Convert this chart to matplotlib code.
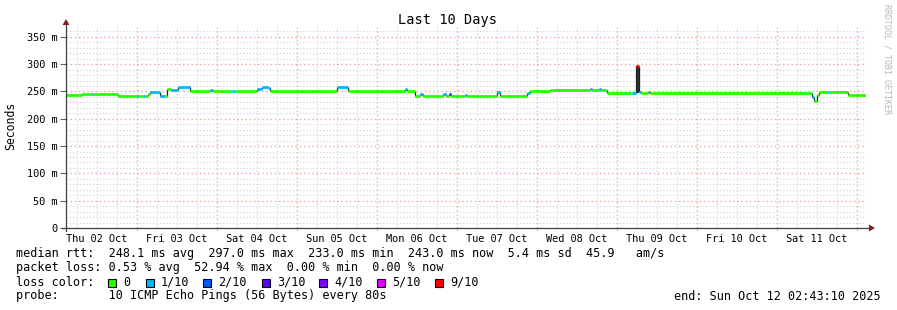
import numpy as np
import matplotlib
matplotlib.use("Agg")
import matplotlib.pyplot as plt
from matplotlib.patches import Rectangle
from datetime import datetime, timedelta

# time span of the graph (10 days ending at "end")
START = datetime(2025, 10, 2, 2, 43, 10)
SPAN_H = 240.0

# median rtt as steps: edges in hours after START, values in ms, loss in tenths
edges_h = [0.0, 4.8, 7.8, 8.4, 15.6, 21.3, 21.9, 23.1, 23.7, 24.6, 25.2, 28.2,
           29.7, 30.3, 31.5, 33.6, 37.2, 43.2, 44.1, 49.8, 50.7, 52.8, 54.0,
           57.3, 58.8, 60.6, 61.2, 81.3, 84.6, 101.7, 102.3, 104.7, 106.2,
           107.1, 113.1, 114.0, 114.9, 115.5, 119.7, 120.3, 129.3, 130.2,
           138.3, 139.2, 145.2, 157.2, 157.8, 159.9, 160.5, 162.3, 169.8,
           171.0, 171.9, 172.5, 174.6, 175.2, 223.8, 224.4, 225.3, 225.9,
           228.3, 228.9, 234.6, 240.0]
median_ms = [243, 245, 245, 245, 242, 242, 242, 242, 242, 246, 249, 242,
             242, 255, 253, 258, 250, 253, 250, 250, 250, 251, 250,
             255, 259, 256, 250, 258, 250, 254, 250, 242, 246,
             242, 245, 242, 246, 242, 243, 242, 249, 242,
             247, 250, 252, 254, 252, 254, 252, 247, 247,
             297, 249, 247, 249, 247, 240, 233, 243, 249,
             249, 249, 243]
loss_tenths = [0, 0, 1, 0, 0, 1, 0, 1, 0, 0, 1, 1,
               0, 0, 1, 1, 0, 1, 0, 1, 0, 0, 0,
               1, 1, 1, 0, 1, 0, 1, 0, 0, 1,
               0, 1, 0, 2, 0, 1, 0, 1, 0,
               1, 0, 0, 1, 0, 1, 0, 0, 1,
               9, 1, 0, 1, 0, 1, 0, 0, 0,
               1, 0, 0]

# smoke band (spread of the pings) where it is visible
smoke_start_h = [171.0]
smoke_end_h = [171.9]
smoke_lo_ms = [247]
smoke_hi_ms = [296]

loss_labels = ["0", "1/10", "2/10", "3/10", "4/10", "5/10", "9/10"]
loss_colors = ["#26ff00", "#00b8ff", "#0059ff", "#5e00ff", "#7e00ff", "#dd00ff", "#ff0000"]
loss_levels = [0, 1, 2, 3, 4, 5, 9]

stats_line = "median rtt:  248.1 ms avg  297.0 ms max  233.0 ms min  243.0 ms now  5.4 ms sd  45.9   am/s"
loss_line = "packet loss: 0.53 % avg  52.94 % max  0.00 % min  0.00 % now"
probe_line = "probe:       10 ICMP Echo Pings (56 Bytes) every 80s"
end_line = "end: Sun Oct 12 02:43:10 2025"

plt.rcParams['font.family'] = ['DejaVu Sans Mono']

W, H = 897, 310
fig = plt.figure(figsize=(W / 100, H / 100), dpi=100)
fig.patch.set_facecolor("white")


def fx(x):
    return x / W


def fy(y):
    return 1 - y / H


L, R, T, B = 66, 866, 27, 228
ax = fig.add_axes([fx(L), fy(B), (R - L) / W, (B - T) / H])
for s in ax.spines.values():
    s.set_visible(False)

# grid: minor every 6 h / 10 ms, major at midnight / 50 ms
midnight0 = (datetime(2025, 10, 3) - START).total_seconds() / 3600
majors = np.arange(midnight0, SPAN_H, 24)
minors = np.arange(midnight0 - 18, SPAN_H, 6)
minors = [m for m in minors if m > 0 and not np.any(np.isclose(majors, m))]
grid_minor = "#d0d0d0"
grid_major = "#f4a4a4"
for x in minors:
    ax.axvline(x, color=grid_minor, lw=0.8, ls=(0, (1, 2)), zorder=0)
for y in range(10, 370, 10):
    if y % 50:
        ax.axhline(y, color=grid_minor, lw=0.8, ls=(0, (1, 2)), zorder=0)
for x in majors:
    ax.axvline(x, color=grid_major, lw=1.0, ls=(0, (1, 2)), zorder=0.5)
for y in range(50, 370, 50):
    ax.axhline(y, color=grid_major, lw=1.0, ls=(0, (1, 2)), zorder=0.5)

# smoke
for a, b, lo, hi in zip(smoke_start_h, smoke_end_h, smoke_lo_ms, smoke_hi_ms):
    ax.fill_between([a, b], lo, hi, color="#303030", lw=0, zorder=2)

# median: colored steps with dark joins
cmap = dict(zip(loss_levels, loss_colors))
for i, v in enumerate(median_ms):
    if i > 0 and median_ms[i - 1] != v:
        ax.vlines(edges_h[i], median_ms[i - 1], v, color="#202020", lw=0.9, zorder=3)
    ax.hlines(v, edges_h[i], edges_h[i + 1], color=cmap[loss_tenths[i]], lw=2.0, zorder=4)

# ticks
ax.set_yticks(range(0, 351, 50))
ax.set_yticklabels(["0"] + ["%d m" % v for v in range(50, 351, 50)])
ax.tick_params(axis="y", length=4, width=0.8, color="#606060", pad=2, labelsize=7.4)
noons = majors - 12
ax.set_xticks(noons)
ax.set_xticklabels([(START + timedelta(hours=h)).strftime("%a %d %b") for h in noons])
ax.tick_params(axis="x", length=0, pad=4, labelsize=7.4)
for x in majors:
    ax.plot([x, x], [0, -4], color=grid_major, lw=0.8, clip_on=False)
ax.set_xlim(0, SPAN_H)
ax.set_ylim(0, 368)

# axes with arrows
fig.add_artist(plt.Line2D([fx(L), fx(L)], [fy(B + 3), fy(24)], color="#404040", lw=0.9))
fig.add_artist(plt.Line2D([fx(L - 4), fx(870)], [fy(B), fy(B)], color="#404040", lw=0.9))
fig.add_artist(plt.Polygon([[fx(L - 3.5), fy(25)], [fx(L + 3.5), fy(25)], [fx(L), fy(19)]],
                           closed=True, color="#8b1a1a", lw=0))
fig.add_artist(plt.Polygon([[fx(869), fy(B - 3.5)], [fx(869), fy(B + 3.5)], [fx(875), fy(B)]],
                           closed=True, color="#8b1a1a", lw=0))

# labels
fig.text(fx(447), fy(20), "Last 10 Days", ha="center", va="center", fontsize=9.8)
fig.text(fx(11), fy(126), "Seconds", ha="center", va="center", rotation=90, fontsize=8.3)
fig.text(fx(887), fy(4), "RRDTOOL / TOBI OETIKER", ha="center", va="top", rotation=270,
         fontsize=6, color="#b8b8b8")

fs = 8.5
fig.text(fx(16), fy(254), stats_line, va="center", fontsize=fs)
fig.text(fx(16), fy(268), loss_line, va="center", fontsize=fs)
fig.text(fx(16), fy(282), "loss color:", va="center", fontsize=fs)
fig.text(fx(16), fy(296), probe_line, va="center", fontsize=fs)
fig.text(fx(881), fy(296), end_line, va="center", ha="right", fontsize=fs)

box_x = [108, 146, 203, 262, 319, 377, 435]
for bx, lab, col in zip(box_x, loss_labels, loss_colors):
    fig.add_artist(Rectangle((fx(bx), fy(286.5)), 8 / W, 8 / H, facecolor=col,
                             edgecolor="black", lw=0.8))
    fig.text(fx(bx + 15), fy(282), lab, va="center", fontsize=fs)

fig.savefig("out.png", dpi=100)
